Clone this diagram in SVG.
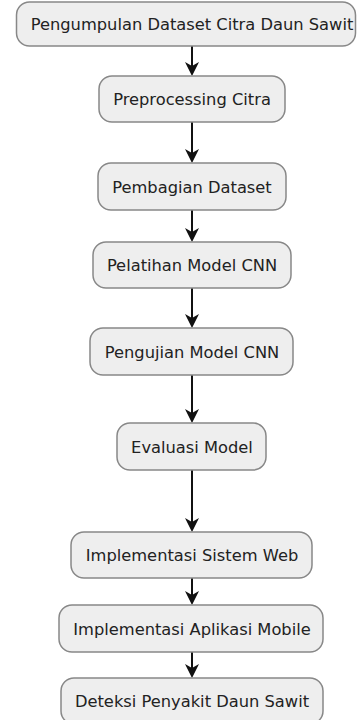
<svg xmlns="http://www.w3.org/2000/svg" width="358" height="720" viewBox="0 0 358 720">
<style>
.box{fill:#eeeeee;stroke:#888888;stroke-width:1.5}
.t{font-family:"DejaVu Sans",sans-serif;font-size:16.3px;fill:#222222;text-anchor:middle}
.c{stroke:#111111;stroke-width:2;fill:none}
.h{fill:#111111}
</style>
<rect width="358" height="720" fill="#ffffff"/>
<g id="connectors">
<path class="c" d="M192 46 V70"/><path class="h" d="M185 62 L192 76 L199 62 L192 66 Z"/>
<path class="c" d="M192 122 V157"/><path class="h" d="M185 149 L192 163 L199 149 L192 153 Z"/>
<path class="c" d="M192 210 V236"/><path class="h" d="M185 228 L192 242 L199 228 L192 232 Z"/>
<path class="c" d="M192 288 V322"/><path class="h" d="M185 314 L192 328 L199 314 L192 318 Z"/>
<path class="c" d="M192 375 V417"/><path class="h" d="M185 409 L192 423 L199 409 L192 413 Z"/>
<path class="c" d="M192 470 V526"/><path class="h" d="M185 518 L192 532 L199 518 L192 522 Z"/>
<path class="c" d="M192 578 V599"/><path class="h" d="M185 591 L192 605 L199 591 L192 595 Z"/>
<path class="c" d="M192 652 V672"/><path class="h" d="M185 664 L192 678 L199 664 L192 668 Z"/>
</g>
<g id="n1"><rect class="box" x="16.5" y="2" width="339" height="44" rx="13"/><text class="t" x="192" y="30">Pengumpulan Dataset Citra Daun Sawit</text></g>
<g id="n2"><rect class="box" x="99" y="76" width="186" height="46" rx="13"/><text class="t" x="192" y="105">Preprocessing Citra</text></g>
<g id="n3"><rect class="box" x="98" y="163" width="188" height="47" rx="13"/><text class="t" x="192" y="192.5">Pembagian Dataset</text></g>
<g id="n4"><rect class="box" x="93" y="242" width="198" height="46" rx="13"/><text class="t" x="192" y="271">Pelatihan Model CNN</text></g>
<g id="n5"><rect class="box" x="90" y="328" width="203" height="47" rx="13"/><text class="t" x="192" y="357.5">Pengujian Model CNN</text></g>
<g id="n6"><rect class="box" x="117" y="423" width="149" height="47" rx="13"/><text class="t" x="192" y="452.5">Evaluasi Model</text></g>
<g id="n7"><rect class="box" x="71" y="532" width="241" height="46" rx="13"/><text class="t" x="192" y="561">Implementasi Sistem Web</text></g>
<g id="n8"><rect class="box" x="59" y="605" width="264" height="47" rx="13"/><text class="t" x="192" y="634.5">Implementasi Aplikasi Mobile</text></g>
<g id="n9"><rect class="box" x="61" y="678" width="262" height="46" rx="13"/><text class="t" x="192" y="707">Deteksi Penyakit Daun Sawit</text></g>
</svg>
